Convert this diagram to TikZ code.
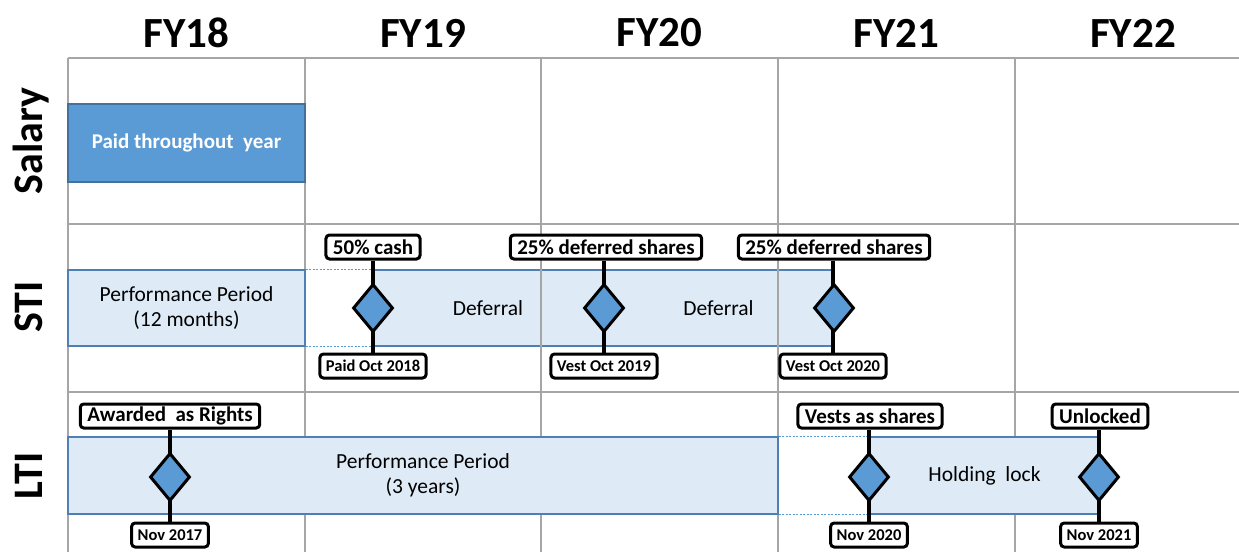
\documentclass[tikz,border=0pt]{standalone}
\usepackage{fontspec}
\setmainfont{Carlito}
\usepackage{tikz}
\usetikzlibrary{shapes.geometric,positioning}
\definecolor{payDark}{HTML}{5B9BD5}
\definecolor{payEdge}{HTML}{41719C}
\definecolor{payBandEdge}{HTML}{4F80B5}
\definecolor{payLight}{HTML}{DEEBF7}
\definecolor{payGrid}{HTML}{A6A6A6}
\tikzset{
  payGridLine/.style={
    draw=payGrid,
    line width=2.4pt
  },
  payHead/.style={
    font=\fontsize{43}{43}\selectfont\bfseries
  },
  payRow/.style={
    rotate=90,
    anchor=base,
    font=\fontsize{42}{42}\selectfont\bfseries
  },
  payBand/.style={
    draw=payBandEdge,
    fill=payLight,
    line width=1.2pt,
    inner sep=0pt,
    align=center,
    font=\fontsize{21.5}{25}\selectfont
  },
  paySalary/.style={
    payBand,
    draw=payEdge,
    fill=payDark,
    text=white,
    font=\fontsize{21}{24}\selectfont\bfseries
  },
  payTag/.style={
    draw=black,
    fill=white,
    rounded corners=3.5pt,
    line width=3pt,
    inner xsep=7pt,
    inner ysep=0pt,
    minimum height=24pt,
    font=\fontsize{21}{21}\selectfont\bfseries
  },
  payDate/.style={
    payTag,
    inner xsep=6pt,
    font=\fontsize{16.5}{16.5}\selectfont\bfseries
  },
  payMark/.style={
    diamond,
    draw=black,
    fill=payDark,
    line width=3pt,
    minimum width=40pt,
    minimum height=48pt,
    inner sep=0pt
  },
  payStem/.style={
    draw=black,
    line width=3.2pt
  },
  payGhost/.style={
    draw=payDark,
    line width=0.9pt,
    dash pattern=on 2pt off 1.5pt
  }
}

\begin{document}
\begin{tikzpicture}[x=1pt, y=-1pt]
\useasboundingbox (0,0) rectangle (1239,552);

% deferral bands sit under the grid
\node[payBand, minimum width=230pt, minimum height=76pt] (stiDeferA)
  at (488,308) {Deferral};
\node[payBand, minimum width=231pt, minimum height=76pt] (stiDeferB)
  at (718.5,308) {Deferral};

% grid
\foreach \gx in {68,305,541,778,1015}
  \draw[payGridLine] (\gx,58) -- (\gx,552);
\foreach \gy in {58,224,392}
  \draw[payGridLine] (68,\gy) -- (1239,\gy);

% year headers and row labels
\foreach \hx/\hy in {186.5/FY18,423/FY19,659.5/FY20,896.5/FY21,1133/FY22}
  \node[payHead] (head\hy) at (\hx,33) {\hy};
\node[payRow] (rowSalary) at (42,141) {Salary};
\node[payRow] (rowSTI) at (42,307) {STI};
\node[payRow] (rowLTI) at (42,476) {LTI};

% bars
\node[paySalary, minimum width=237pt, minimum height=78pt] (salary)
  at (186.5,143) {Paid throughout\ \ year};
\node[payBand, minimum width=237pt, minimum height=76pt] (stiPerf)
  at (186.5,308) {Performance Period\\(12 months)};
\node[payBand, minimum width=710pt, minimum height=77pt] (ltiPerf)
  at (423,475.5) {Performance Period\\(3 years)};
\node[payBand, minimum width=231pt, minimum height=77pt] (ltiHold)
  at (984.5,475.5) {Holding\ \ lock};

\draw[payGhost] (stiPerf.north east) -- (stiDeferA.north west);
\draw[payGhost] (stiPerf.south east) -- (stiDeferA.south west);
\draw[payGhost] (ltiPerf.north east) -- (ltiHold.north west);
\draw[payGhost] (ltiPerf.south east) -- (ltiHold.south west);

% STI events
\node[payTag] (stiCash) at (373,247) {50\% cash};
\node[payTag] (stiShareA) at (606,247) {25\% deferred shares};
\node[payTag] (stiShareB) at (834,247) {25\% deferred shares};
\node[payDate] (stiPaid) at (373,366) {Paid Oct 2018};
\node[payDate] (stiVestA) at (604,366) {Vest Oct 2019};
\node[payDate] (stiVestB) at (833,366) {Vest Oct 2020};

% LTI events
\node[payTag] (ltiAward) at (170,416) {Awarded\ \ as Rights};
\node[payTag] (ltiVest) at (870,416) {Vests as shares};
\node[payTag] (ltiUnlock) at (1100,416) {Unlocked};
\node[payDate] (ltiNovA) at (170,535) {Nov 2017};
\node[payDate] (ltiNovB) at (869,535) {Nov 2020};
\node[payDate] (ltiNovC) at (1099,535) {Nov 2021};

\draw[payStem] (stiPaid.north -| stiCash.south) -- (stiCash.south);
\draw[payStem] (stiShareA.south -| stiVestA.north) -- (stiVestA.north);
\draw[payStem] (stiShareB.south -| stiVestB.north) -- (stiVestB.north);
\draw[payStem] (ltiAward.south) -- (ltiNovA.north);
\draw[payStem] (ltiVest.south -| ltiNovB.north) -- (ltiNovB.north);
\draw[payStem] (ltiUnlock.south -| ltiNovC.north) -- (ltiNovC.north);

\node[payMark] (stiMarkA) at (373,308) {};
\node[payMark] (stiMarkB) at (604,308) {};
\node[payMark] (stiMarkC) at (834,308) {};
\node[payMark] (ltiMarkA) at (170,477) {};
\node[payMark] (ltiMarkB) at (869,477) {};
\node[payMark] (ltiMarkC) at (1099,477) {};
\end{tikzpicture}
\end{document}
